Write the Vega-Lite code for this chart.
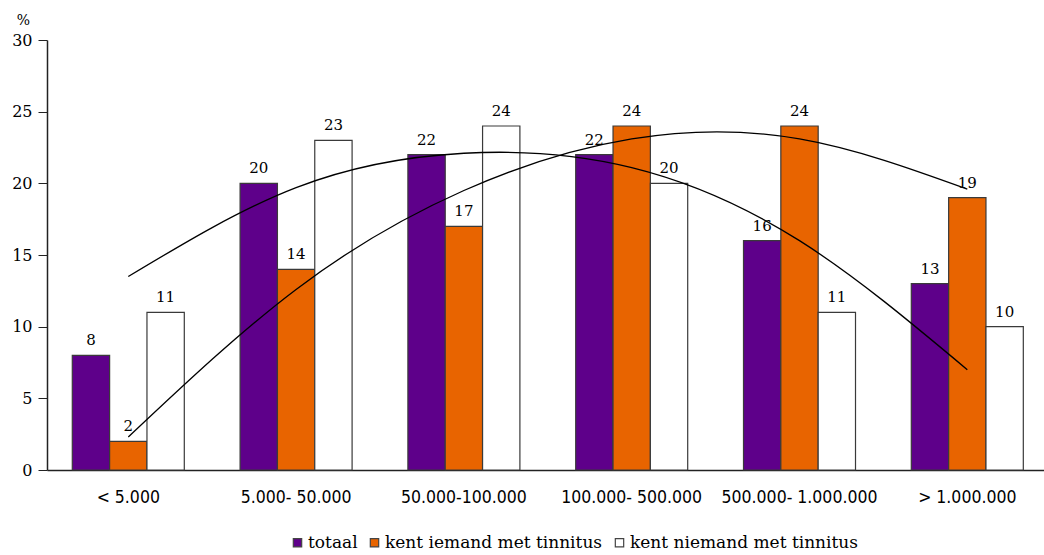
{
  "$schema": "https://vega.github.io/schema/vega-lite/v6.json",
  "width": 997,
  "height": 430,
  "autosize": {"type": "none"},
  "padding": {"left": 47, "top": 40, "right": 0, "bottom": 85},
  "background": "white",
  "config": {
    "view": {"stroke": null},
    "legend": {"labelFont": "DejaVu Serif", "labelFontSize": 17, "labelLimit": 0, "labelColor": "#000000"}
  },
  "datasets": {
    "bars": [
      {"cat": "< 5.000", "series": "totaal", "value": 8},
      {"cat": "< 5.000", "series": "kent iemand met tinnitus", "value": 2},
      {"cat": "< 5.000", "series": "kent niemand met tinnitus", "value": 11},
      {"cat": "5.000- 50.000", "series": "totaal", "value": 20},
      {"cat": "5.000- 50.000", "series": "kent iemand met tinnitus", "value": 14},
      {"cat": "5.000- 50.000", "series": "kent niemand met tinnitus", "value": 23},
      {"cat": "50.000-100.000", "series": "totaal", "value": 22},
      {"cat": "50.000-100.000", "series": "kent iemand met tinnitus", "value": 17},
      {"cat": "50.000-100.000", "series": "kent niemand met tinnitus", "value": 24},
      {"cat": "100.000- 500.000", "series": "totaal", "value": 22},
      {"cat": "100.000- 500.000", "series": "kent iemand met tinnitus", "value": 24},
      {"cat": "100.000- 500.000", "series": "kent niemand met tinnitus", "value": 20},
      {"cat": "500.000- 1.000.000", "series": "totaal", "value": 16},
      {"cat": "500.000- 1.000.000", "series": "kent iemand met tinnitus", "value": 24},
      {"cat": "500.000- 1.000.000", "series": "kent niemand met tinnitus", "value": 11},
      {"cat": "> 1.000.000", "series": "totaal", "value": 13},
      {"cat": "> 1.000.000", "series": "kent iemand met tinnitus", "value": 19},
      {"cat": "> 1.000.000", "series": "kent niemand met tinnitus", "value": 10}
    ],
    "trends": [
      {"cat": "< 5.000", "trend": "A", "value": 13.5},
      {"cat": "5.000- 50.000", "trend": "A", "value": 19.7},
      {"cat": "50.000-100.000", "trend": "A", "value": 22.1},
      {"cat": "100.000- 500.000", "trend": "A", "value": 21.1},
      {"cat": "500.000- 1.000.000", "trend": "A", "value": 16.0},
      {"cat": "> 1.000.000", "trend": "A", "value": 7.0},
      {"cat": "< 5.000", "trend": "B", "value": 2.3},
      {"cat": "5.000- 50.000", "trend": "B", "value": 12.6},
      {"cat": "50.000-100.000", "trend": "B", "value": 19.5},
      {"cat": "100.000- 500.000", "trend": "B", "value": 23.1},
      {"cat": "500.000- 1.000.000", "trend": "B", "value": 23.1},
      {"cat": "> 1.000.000", "trend": "B", "value": 19.6}
    ]
  },
  "encoding": {
    "x": {
      "field": "cat",
      "type": "nominal",
      "sort": ["< 5.000", "5.000- 50.000", "50.000-100.000", "100.000- 500.000", "500.000- 1.000.000", "> 1.000.000"],
      "scale": {"paddingInner": 0.3325, "paddingOuter": 0.137, "align": 0.55},
      "axis": {
        "title": null,
        "labelAngle": 0,
        "ticks": false,
        "domainColor": "#222222",
        "domainWidth": 1.5,
        "labelFont": "Liberation Sans Narrow, DejaVu Sans Condensed, sans-serif",
        "labelFontSize": 17.5,
        "labelColor": "#000000",
        "labelPadding": 18
      }
    },
    "y": {
      "field": "value",
      "type": "quantitative",
      "scale": {"domain": [0, 30], "nice": false},
      "axis": {
        "values": [0, 5, 10, 15, 20, 25, 30],
        "grid": false,
        "title": "%",
        "titleAngle": 0,
        "titleX": -24,
        "titleY": -20,
        "titleAlign": "center",
        "titleBaseline": "middle",
        "titleFont": "DejaVu Serif",
        "titleFontSize": 14,
        "titleFontWeight": "normal",
        "titleColor": "#000000",
        "domainColor": "#222222",
        "domainWidth": 1.5,
        "tickColor": "#222222",
        "tickSize": 9,
        "tickOffset": 0,
        "labelFont": "DejaVu Serif",
        "labelFontSize": 16,
        "labelColor": "#000000",
        "labelPadding": 6
      }
    }
  },
  "layer": [
    {
      "data": {"name": "bars"},
      "mark": {"type": "bar", "stroke": "#3a3a3a", "strokeWidth": 1.2},
      "encoding": {
        "xOffset": {
          "field": "series",
          "type": "nominal",
          "sort": ["totaal", "kent iemand met tinnitus", "kent niemand met tinnitus"],
          "scale": {"paddingInner": 0, "paddingOuter": 0}
        },
        "color": {
          "field": "series",
          "type": "nominal",
          "sort": ["totaal", "kent iemand met tinnitus", "kent niemand met tinnitus"],
          "scale": {
            "domain": ["totaal", "kent iemand met tinnitus", "kent niemand met tinnitus"],
            "range": ["#5e008a", "#e86400", "#ffffff"]
          },
          "legend": {
            "title": null,
            "orient": "none",
            "direction": "horizontal",
            "legendX": 242,
            "legendY": 494,
            "symbolType": "square",
            "symbolSize": 70,
            "symbolStrokeColor": "#444444",
            "symbolStrokeWidth": 1.2,
            "symbolOpacity": 1,
            "labelFont": "DejaVu Serif",
            "labelFontSize": 17,
            "labelLimit": 0,
            "labelColor": "#000000",
            "labelOffset": 2,
            "columnPadding": 8
          }
        }
      }
    },
    {
      "data": {"name": "bars"},
      "mark": {"type": "text", "baseline": "bottom", "dy": -7, "font": "DejaVu Serif", "fontSize": 15, "color": "#000000"},
      "encoding": {
        "xOffset": {
          "field": "series",
          "type": "nominal",
          "sort": ["totaal", "kent iemand met tinnitus", "kent niemand met tinnitus"],
          "scale": {"paddingInner": 0, "paddingOuter": 0}
        },
        "text": {"field": "value", "type": "quantitative"}
      }
    },
    {
      "data": {"name": "trends"},
      "mark": {"type": "line", "interpolate": "natural", "color": "#000000", "strokeWidth": 1.3},
      "encoding": {
        "detail": {"field": "trend", "type": "nominal"}
      }
    }
  ]
}
